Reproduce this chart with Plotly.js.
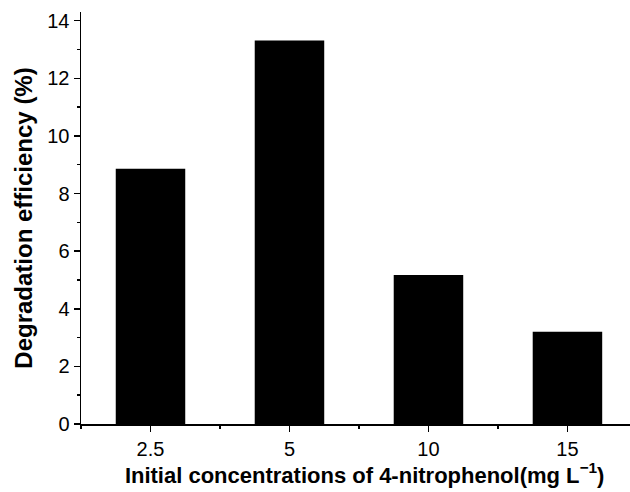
<!DOCTYPE html>
<html>
<head>
<meta charset="utf-8">
<script src="https://cdn.plot.ly/plotly-3.0.1.min.js"></script>
<style>html,body{margin:0;padding:0;background:#fff;}</style>
</head>
<body>
<div id="chart" style="width:630px;height:492px;"></div>
<script>
const categories = ["2.5", "5", "10", "15"];
const efficiency = [8.86, 13.31, 5.17, 3.2];

const xPos = categories.map((c, i) => i);

const data = [{
  type: "bar",
  x: xPos,
  y: efficiency,
  width: 0.5,
  marker: {color: "#000000", line: {color: "#000000", width: 0}},
  hoverinfo: "skip"
}];

const layout = {
  width: 630,
  height: 492,
  margin: {l: 81, r: 0, t: 12, b: 68},
  paper_bgcolor: "#ffffff",
  plot_bgcolor: "#ffffff",
  showlegend: false,
  font: {family: "Liberation Sans, Arial, sans-serif", color: "#000"},
  xaxis: {
    range: [-0.5, 3.45],
    tickmode: "array",
    tickvals: xPos,
    ticktext: categories,
    ticks: "outside",
    ticklen: 6,
    tickwidth: 1.5,
    tickcolor: "#000",
    showline: true,
    linecolor: "#000",
    linewidth: 1.5,
    showgrid: false,
    zeroline: false,
    tickfont: {size: 20, family: "Liberation Sans, Arial, sans-serif"},
    minor: {tick0: -0.5, dtick: 1, ticks: "outside", ticklen: 3, tickwidth: 1.5, tickcolor: "#000", showgrid: false},
    title: {text: "<b>\u00a0\u00a0\u00a0Initial concentrations of 4-nitrophenol(mg L<sup>\u22121</sup>)</b>", font: {size: 22, family: "Liberation Sans, Arial, sans-serif"}, standoff: 7}
  },
  yaxis: {
    range: [0, 14.3],
    tickmode: "linear",
    tick0: 0,
    dtick: 2,
    ticks: "outside",
    ticklen: 6,
    tickwidth: 1.5,
    tickcolor: "#000",
    showline: true,
    linecolor: "#000",
    linewidth: 1.5,
    showgrid: false,
    zeroline: false,
    tickfont: {size: 20, family: "Liberation Sans, Arial, sans-serif"},
    minor: {tick0: 1, dtick: 2, ticks: "outside", ticklen: 3, tickwidth: 1.5, tickcolor: "#000", showgrid: false},
    title: {text: "<b>Degradation efficiency (%)</b>", font: {size: 24, family: "Liberation Sans, Arial, sans-serif"}, standoff: 8}
  }
};

Plotly.newPlot("chart", data, layout, {displayModeBar: false, staticPlot: true});
</script>
</body>
</html>
